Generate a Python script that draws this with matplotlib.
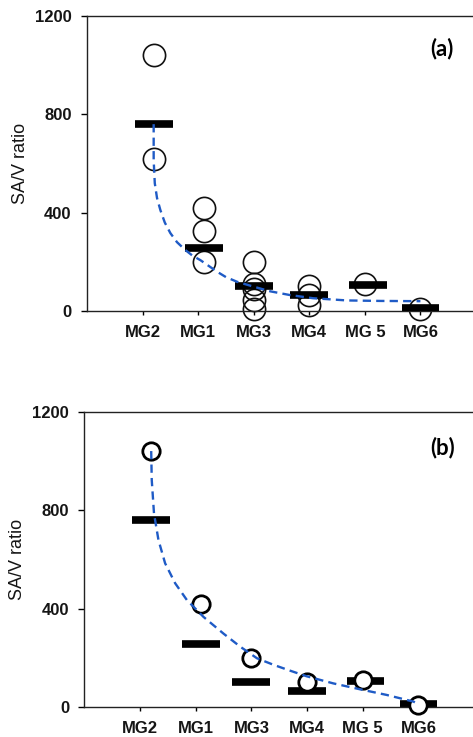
import matplotlib
matplotlib.use("Agg")
import matplotlib.pyplot as plt
import numpy as np

# ---- data ----
categories = ["MG2", "MG1", "MG3", "MG4", "MG 5", "MG6"]
cat_ticks = [1, 2, 3, 4, 5, 6]
point_pos = [1.2, 2.1, 3.0, 4.0, 5.0, 6.0]
bar_pos = [1.2, 2.1, 3.0, 4.0, 5.05, 6.0]

# panel (a): individual values per group
group_values = [
    [1040, 620],
    [420, 325, 200],
    [200, 110, 90, 45, 10],
    [100, 65, 25],
    [110],
    [8],
]
group_means = [760, 255, 100, 65, 105, 12]

# panel (b): maximum per group
group_max = [1040, 420, 200, 100, 110, 10]

# trend curves
trend_a_x = [1.2, 1.2, 1.22, 1.26, 1.32, 1.4, 1.5, 1.62, 1.77, 1.9, 2.04, 2.2, 2.34, 2.5, 2.7, 3.0, 3.3, 3.65, 4.07, 4.68, 5.28, 6.0]
trend_a_y = [760, 614, 520, 460, 411, 360, 317, 280, 248, 225, 207, 182, 160, 138, 119, 99, 80, 65, 52, 43, 41, 40]
trend_b_x = [1.2, 1.21, 1.25, 1.33, 1.45, 1.63, 1.84, 2.14, 2.5, 2.8, 3.1, 3.39, 3.69, 3.99, 4.47, 4.95, 5.43, 5.91, 6.0]
trend_b_y = [1040, 922, 787, 679, 584, 503, 435, 366, 298, 245, 198, 172, 148, 125, 96, 72, 49, 22, 12]

y_ticks = [0, 400, 800, 1200]

plt.rcParams['font.family'] = ['Liberation Sans', 'DejaVu Sans']

fig = plt.figure(figsize=(4.73, 7.37), dpi=100)
ax_a = fig.add_axes([0.1839, 0.578, 0.8224, 0.4003])
ax_b = fig.add_axes([0.1784, 0.0407, 0.824, 0.4007])

dash_color = "#1f5bc6"
bar_half = 0.34

def style_axis(ax, label, lx, ly):
    ax.set_xlim(0, 7)
    ax.set_ylim(0, 1200)
    ax.set_yticks(y_ticks)
    ax.set_yticklabels([str(t) for t in y_ticks], fontweight="bold", fontsize=12, color="#151515")
    ax.set_xticks(cat_ticks)
    ax.set_xticklabels(categories, fontweight="bold", fontsize=12, color="#151515")
    ax.tick_params(axis="y", direction="out", length=4, width=1, pad=7)
    ax.tick_params(axis="x", direction="out", length=3, width=1, pad=7)
    for s in ["left", "bottom", "top"]:
        ax.spines[s].set_linewidth(1.0)
        ax.spines[s].set_color("#222222")
    ax.spines["right"].set_visible(False)
    ax.set_ylabel("SA/V ratio", fontsize=13, va="center", color="#151515")
    ax.yaxis.set_label_coords(-0.172, 0.5)
    ax.text(lx, ly, label, transform=ax.transAxes, ha="center", va="center",
            fontsize=16, fontweight="bold", family=["Lato", "DejaVu Sans"])

# panel (a)
for px, vals in zip(point_pos, group_values):
    ax_a.plot([px] * len(vals), vals, "o", ms=16, mfc="none", mec="#111111", mew=1.2,
              zorder=2, clip_on=False)
ax_a.hlines(group_means, np.array(bar_pos) - bar_half, np.array(bar_pos) + bar_half,
            colors="black", lw=5.5, zorder=3)
ax_a.plot(trend_a_x, trend_a_y, linestyle=(0, (3.5, 2.2)), color=dash_color, lw=1.7, zorder=4)
style_axis(ax_a, "(a)", 0.912, 0.89)

# panel (b)
ax_b.hlines(group_means, np.array(bar_pos) - bar_half, np.array(bar_pos) + bar_half,
            colors="black", lw=5.5, zorder=2)
ax_b.plot(point_pos, group_max, "o", ms=12.5, mfc="white", mec="black", mew=2.0,
          zorder=3, clip_on=False)
ax_b.plot(trend_b_x, trend_b_y, linestyle=(0, (3.5, 2.2)), color=dash_color, lw=1.7, zorder=4)
style_axis(ax_b, "(b)", 0.92, 0.88)

fig.savefig("out.png", dpi=100)
